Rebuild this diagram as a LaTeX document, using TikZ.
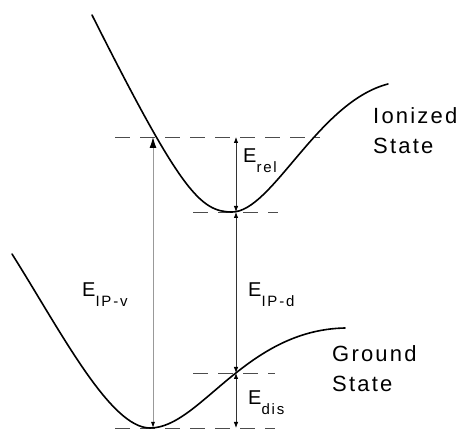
\documentclass[tikz,border=0pt]{standalone}
\usepackage{fontspec}
\setmainfont{Liberation Sans}
\usetikzlibrary{arrows.meta}
\newcommand\esub[1]{E\raisebox{-10pt}{\fontsize{15}{15}\selectfont\addfontfeature{LetterSpace=12}#1}}
\tikzset{
  potcurve/.style={line width=1.6pt, line cap=round},
  level/.style={black!70, line width=0.8pt, dash pattern=on 15pt off 10pt},
  gap/.style={black!80, line width=0.8pt,
    {Latex[length=6pt,width=4.5pt,black]}-{Latex[length=6pt,width=4.5pt,black]}},
  vert/.style={black!40, line width=0.9pt,
    {Latex[length=6pt,width=4pt,black]}-{Latex[length=11pt,width=7pt,black]}},
  elabel/.style={anchor=base west, inner sep=0pt,
    font=\fontsize{20}{20}\selectfont},
  statelabel/.style={anchor=north west, inner sep=0pt, align=left,
    font=\fontsize{22}{30}\selectfont\addfontfeature{LetterSpace=10}}
}
\begin{document}
\begin{tikzpicture}[x=1pt,y=1pt]
\useasboundingbox (0,0) rectangle (465,430);

% energy levels
\coordinate (vtop) at (153,293);
\coordinate (vbot) at (153,2);
\coordinate (dtop) at (236,293);
\coordinate (dmin) at (236,218);
\coordinate (dcross) at (236,57);
\coordinate (dbot) at (236,2);

\draw[level] (115,293) -- (320,293);
\draw[level] (193,218) -- (278,218);
\draw[level] (193,57) -- (275,57);
\draw[level] (115,2) -- (275,2);

% transitions
\draw[vert] (vbot) -- (vtop);
\draw[gap] (dtop) -- (dmin);
\draw[gap] (dmin) -- (dcross);
\draw[gap] (dcross) -- (dbot);

% potential curves
\draw[potcurve] (92,415) .. controls (180,240) and (200,218) .. (232,218)
  .. controls (272,218) and (318,328) .. (388,346);
\draw[potcurve] (12,176) .. controls (60,100) and (110,2) .. (150,2)
  .. controls (200,2) and (245,100) .. (345,102);

% labels
\node[elabel] (erel) at (243,267) {\esub{rel}};
\node[elabel] (eipv) at (82,133) {\esub{IP-v}};
\node[elabel] (eipd) at (248,133) {\esub{IP-d}};
\node[elabel] (edis) at (248,25) {\esub{dis}};
\node[statelabel] (ionized) at (373,323) {Ionized\\State};
\node[statelabel] (ground) at (332,85) {Ground\\State};
\end{tikzpicture}
\end{document}
